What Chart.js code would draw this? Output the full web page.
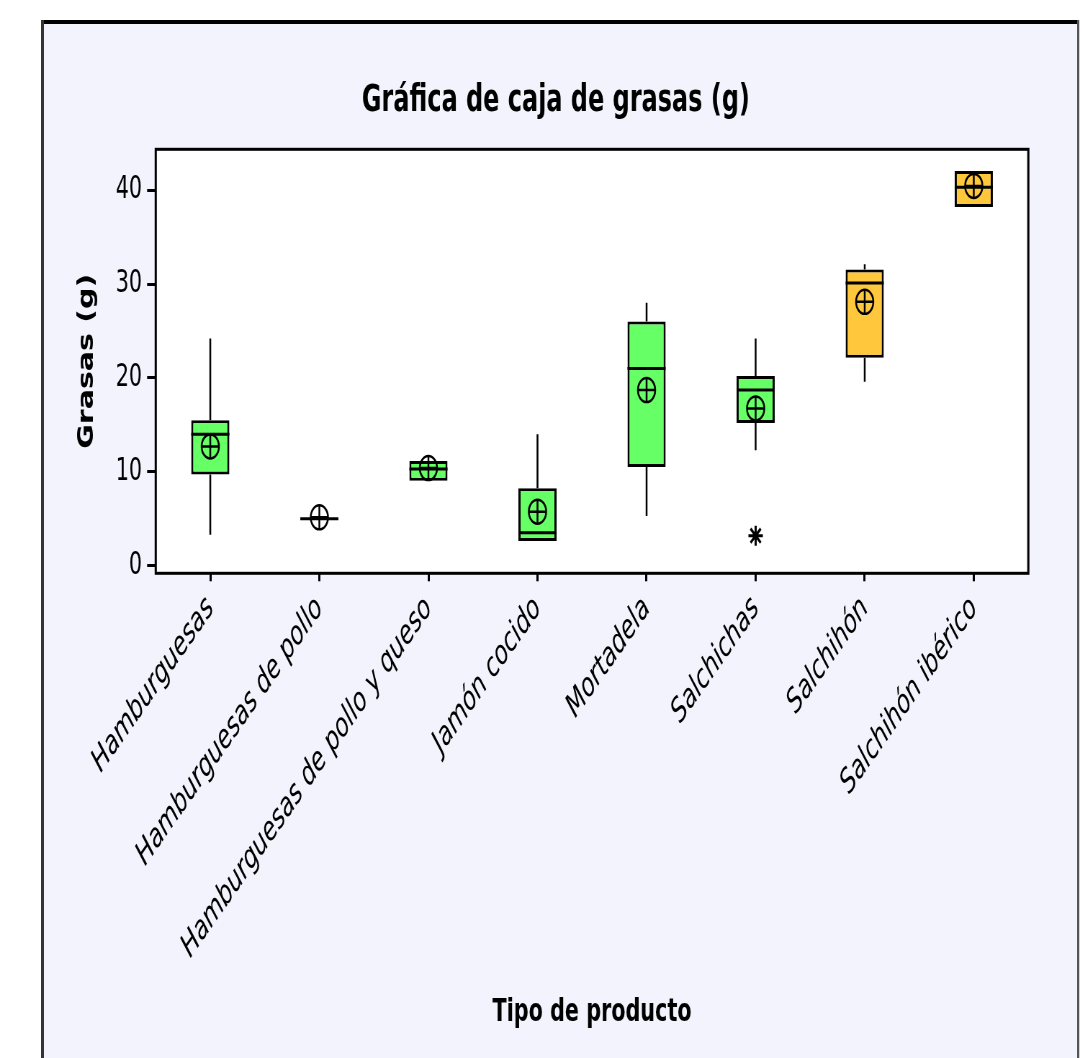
<!DOCTYPE html>
<html>
<head>
<meta charset="utf-8">
<script src="https://cdn.jsdelivr.net/npm/chart.js@4.4.1/dist/chart.umd.min.js"></script>
<style>
  html, body { margin: 0; padding: 0; background: #fff; overflow: hidden; }
  /* the Minitab export is squeezed horizontally, so draw wide and squeeze */
  #wrap { width: 1517px; height: 1058px; transform: scaleX(0.72); transform-origin: 0 0; }
</style>
</head>
<body>
<div id="wrap"><canvas id="boxChart" width="1517" height="1058"></canvas></div>
<script>
// Datos (grasas en g)
const productos = [
  'Hamburguesas', 'Hamburguesas de pollo', 'Hamburguesas de pollo y queso', 'Jamón cocido',
  'Mortadela', 'Salchichas', 'Salchihón', 'Salchihón ibérico'
];
const bigoteInf = [3.3, 5.0, 9.05, 2.63, 5.3, 12.3, 19.6, 38.2];
const q1        = [9.7, 5.0, 9.05, 2.63, 10.5, 15.2, 22.15, 38.2];
const mediana   = [14.0, 5.0, 10.3, 3.5, 21.0, 18.7, 30.1, 40.3];
const q3        = [15.5, 5.0, 11.15, 8.25, 26.0, 20.2, 31.55, 42.05];
const bigoteSup = [24.2, 5.0, 11.15, 14.0, 28.0, 24.2, 32.1, 42.05];
const media     = [12.7, 5.15, 10.4, 5.75, 18.7, 16.75, 28.1, 40.45];
const atipicos  = [null, null, null, null, null, 3.2, null, null];
const yTicks    = [0, 10, 20, 30, 40];

const verde = '#66FF66';
const naranja = '#FFC83C';
const colores = [verde, verde, verde, verde, verde, verde, naranja, naranja];

const fCond = "'DejaVu Sans Condensed', 'DejaVu Sans', sans-serif";

// frame, whiskers, medians and plot border
const boxExtras = {
  id: 'boxExtras',
  beforeDraw(chart) {
    const {ctx, chartArea: a, width, height} = chart;
    ctx.save();
    ctx.fillStyle = '#fff';
    ctx.fillRect(0, 0, width, height);
    ctx.fillStyle = '#F3F3FD';
    ctx.fillRect(58, 21, 1440, height);
    ctx.fillStyle = '#000';
    ctx.fillRect(57, 20, 1442, 4);
    ctx.fillStyle = '#333';
    ctx.fillRect(57, 20, 4, height);
    ctx.fillStyle = '#555';
    ctx.fillRect(1496, 20, 3, height);
    ctx.fillStyle = '#fff';
    ctx.fillRect(a.left, a.top, a.width, a.height);
    ctx.restore();
  },
  beforeDatasetsDraw(chart) {
    const {ctx, scales: {x, y}} = chart;
    ctx.save();
    ctx.strokeStyle = '#000';
    ctx.lineWidth = 2.5;
    productos.forEach((p, i) => {
      const px = x.getPixelForValue(i);
      ctx.beginPath();
      ctx.moveTo(px, y.getPixelForValue(bigoteSup[i]));
      ctx.lineTo(px, y.getPixelForValue(q3[i]));
      ctx.moveTo(px, y.getPixelForValue(q1[i]));
      ctx.lineTo(px, y.getPixelForValue(bigoteInf[i]));
      ctx.stroke();
    });
    ctx.restore();
  },
  afterDatasetDraw(chart, args) {
    if (args.index !== 0) return;
    const {ctx, scales: {y}} = chart;
    const bars = chart.getDatasetMeta(0).data;
    ctx.save();
    ctx.strokeStyle = '#000';
    ctx.lineWidth = 3;
    bars.forEach((bar, i) => {
      const py = y.getPixelForValue(mediana[i]);
      ctx.beginPath();
      ctx.moveTo(bar.x - bar.width / 2, py);
      ctx.lineTo(bar.x + bar.width / 2, py);
      ctx.stroke();
    });
    ctx.restore();
  },
  afterDraw(chart) {
    const {ctx, chartArea: a} = chart;
    ctx.save();
    ctx.strokeStyle = '#000';
    ctx.lineWidth = 3;
    ctx.strokeRect(a.left, a.top, a.width, a.height);
    ctx.restore();
  }
};

const ctx = document.getElementById('boxChart').getContext('2d');
new Chart(ctx, {
  type: 'bar',
  data: {
    labels: productos,
    datasets: [
      {
        label: 'Caja',
        data: productos.map((p, i) => [q1[i], q3[i]]),
        backgroundColor: colores,
        borderColor: '#000',
        borderWidth: 3,
        borderSkipped: false,
        barPercentage: 0.35,
        categoryPercentage: 1,
        order: 10
      },
      {
        type: 'line',
        label: 'Media',
        data: media,
        showLine: false,
        pointStyle: 'circle',
        pointRadius: 12,
        pointHoverRadius: 12,
        pointBorderWidth: 2.5,
        pointBorderColor: '#000',
        pointBackgroundColor: 'rgba(0,0,0,0)',
        order: 1
      },
      {
        type: 'line',
        label: 'Media (cruz)',
        data: media,
        showLine: false,
        pointStyle: 'cross',
        pointRadius: 12,
        pointHoverRadius: 12,
        pointBorderWidth: 2.5,
        pointBorderColor: '#000',
        order: 1
      },
      {
        type: 'line',
        label: 'Atípicos',
        data: atipicos,
        showLine: false,
        pointStyle: 'star',
        pointRadius: 10,
        pointHoverRadius: 10,
        pointBorderWidth: 3,
        pointBorderColor: '#000',
        order: 0
      }
    ]
  },
  options: {
    responsive: false,
    animation: false,
    devicePixelRatio: 1,
    layout: { padding: { left: 115.8, right: 88.8, top: 0, bottom: 27 } },
    plugins: {
      legend: { display: false },
      tooltip: { enabled: false },
      title: {
        display: true,
        text: 'Gráfica de caja de grasas (g)',
        color: '#000',
        font: { family: fCond, size: 37, weight: 'bold', lineHeight: 1.2 },
        padding: { top: 79, bottom: 25.9 }
      }
    },
    scales: {
      x: {
        offset: true,
        border: { display: false },
        grid: {
          offset: false,
          drawOnChartArea: false,
          drawTicks: true,
          tickLength: 8,
          tickWidth: 3,
          tickColor: '#000',
          color: '#000'
        },
        ticks: {
          color: '#000',
          autoSkip: false,
          minRotation: 46,
          maxRotation: 46,
          padding: 8,
          font: { family: fCond, size: 33.5, style: 'italic' }
        },
        title: {
          display: true,
          text: 'Tipo de producto',
          color: '#000',
          font: { family: fCond, size: 32, weight: 'bold', lineHeight: 1.125 },
          padding: 0
        },
        afterFit(scale) { scale.height = 457.7; }
      },
      y: {
        min: -0.81,
        max: 44.35,
        border: { display: false },
        grid: {
          drawOnChartArea: false,
          drawTicks: true,
          tickLength: 12,
          tickWidth: 3,
          tickColor: '#000',
          color: '#000'
        },
        ticks: {
          color: '#000',
          padding: 7,
          font: { family: fCond, size: 32 }
        },
        afterBuildTicks(scale) { scale.ticks = yTicks.map(v => ({ value: v })); },
        title: {
          display: true,
          text: 'Grasas (g)',
          color: '#000',
          font: { family: "'DejaVu Sans', sans-serif", size: 30, weight: 'bold', lineHeight: 1 },
          padding: { top: -9.8, bottom: 0 }
        },
        afterFit(scale) { scale.width = 100.5; }
      }
    }
  },
  plugins: [boxExtras]
});
</script>
</body>
</html>
